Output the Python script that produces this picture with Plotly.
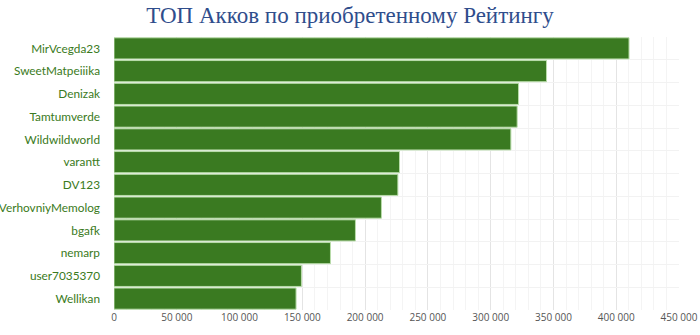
import plotly.graph_objects as go

# Accounts ranked by purchased rating
accounts = [
    "MirVcegda23", "SweetMatpeiiika", "Denizak", "Tamtumverde", "Wildwildworld",
    "varantt", "DV123", "VerhovniyMemolog", "bgafk", "nemarp", "user7035370", "Wellikan",
]
rating = [
    410200, 344500, 322200, 321100, 316100,
    227400, 226100, 213000, 192300, 172400, 149300, 145000,
]
x_ticks = [0, 50000, 100000, 150000, 200000, 250000, 300000, 350000, 400000, 450000]

BAR = "#3a7a21"
LABEL = "#3a7a21"

fig = go.Figure(
    go.Bar(
        x=rating,
        y=accounts,
        orientation="h",
        marker=dict(color=BAR, line=dict(color="#b9dcaa", width=1)),
        hoverinfo="x+y",
    )
)

fig.update_layout(
    width=700,
    height=335,
    margin=dict(l=114, r=21, t=37, b=25, autoexpand=False),
    paper_bgcolor="white",
    plot_bgcolor="white",
    separators=". ",
    bargap=0.07,
    showlegend=False,
    title=dict(
        text="ТОП Акков по приобретенному Рейтингу",
        x=0.5,
        xanchor="center",
        y=0.978,
        yanchor="top",
        font=dict(family="Liberation Serif", size=23, color="#2f4d8c"),
    ),
)

fig.update_xaxes(
    range=[0, 450000],
    tickvals=x_ticks,
    tickformat=",d",
    showgrid=True,
    gridcolor="#e4e4e4",
    gridwidth=1,
    minor=dict(dtick=10000, showgrid=True, gridcolor="#f4f4f4", gridwidth=1),
    zeroline=False,
    showline=False,
    ticks="",
    tickfont=dict(family="Open Sans", size=10, color="#555555"),
)

fig.update_yaxes(
    categoryorder="array",
    categoryarray=accounts[::-1],
    tickson="boundaries",
    showgrid=True,
    gridcolor="#f2f2f2",
    showline=False,
    zeroline=False,
    ticks="",
    ticklabelstandoff=13,
    tickfont=dict(family="Lato", size=11.8, color=LABEL),
)

fig.write_html("out.html")
